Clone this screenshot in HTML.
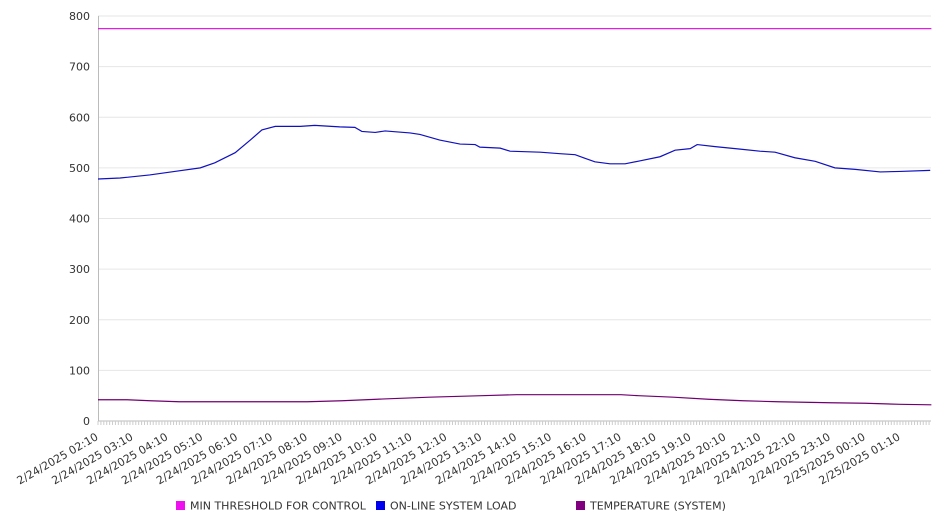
<!DOCTYPE html>
<html><head><meta charset="utf-8"><style>
body{margin:0;background:#fff;font-family:"DejaVu Sans","Liberation Sans",sans-serif;}
svg text{font-family:"DejaVu Sans","Liberation Sans",sans-serif;fill:#333;}
</style></head><body>
<svg id="c" width="946" height="526" xmlns="http://www.w3.org/2000/svg"></svg>
<script>
const timeLabels=["2/24/2025 02:10","2/24/2025 03:10","2/24/2025 04:10","2/24/2025 05:10","2/24/2025 06:10","2/24/2025 07:10","2/24/2025 08:10","2/24/2025 09:10","2/24/2025 10:10","2/24/2025 11:10","2/24/2025 12:10","2/24/2025 13:10","2/24/2025 14:10","2/24/2025 15:10","2/24/2025 16:10","2/24/2025 17:10","2/24/2025 18:10","2/24/2025 19:10","2/24/2025 20:10","2/24/2025 21:10","2/24/2025 22:10","2/24/2025 23:10","2/25/2025 00:10","2/25/2025 01:10"];
const yTicks=[0,100,200,300,400,500,600,700,800];
const loadMinutes=[0,38,89,132,176,201,236,262,282,305,348,373,416,442,454,477,494,537,554,588,623,649,657,692,709,761,795,821,838,855,881,907,933,967,993,1019,1031,1062,1105,1139,1165,1199,1234,1268,1303,1346,1380,1432];
const loadValues=[478,480,486,493,500,510,530,555,575,582,582,584,581,580,572,570,573,569,566,555,547,546,541,539,533,531,528,526,519,512,508,508,514,522,535,538,546,542,537,533,531,520,513,500,497,492,493,495];
const tempMinutes=[0,50,90,140,360,420,480,570,660,720,900,930,990,1050,1110,1170,1260,1320,1380,1434];
const tempValues=[42,42,40,38,38,40,43,47,50,52,52,50,47,43,40,38,36,35,33,32];
const thrMinutes=[0,1434];
const thrValues=[775,775];
const L=98,R=931,T=16,B=421,MAX=800,SPAN=1434;
const pxPerMin=(900-98)/(23*60);
const X=m=>L+m*pxPerMin;
const Y=v=>B-(v/MAX)*(B-T);
const svg=document.getElementById('c');
const NS='http://www.w3.org/2000/svg';
function mk(t,a){const e=document.createElementNS(NS,t);for(const k in a)e.setAttribute(k,a[k]);svg.appendChild(e);return e;}
yTicks.forEach(v=>{
  const g=mk('line',{x1:L,x2:R,y1:Y(v),y2:Y(v),stroke:v===0?'#bbb':'#e6e6e6','stroke-width':1});
  
  
  const t=mk('text',{x:90,y:Y(v)+4,'text-anchor':'end','font-size':11});
  t.textContent=v;
  
  
});
const ax=mk('line',{x1:L+0.5,x2:L+0.5,y1:T,y2:B,stroke:'#bbb'});


for(let m=0;m<=SPAN;m+=5){
  const tk=mk('line',{x1:X(m),x2:X(m),y1:B,y2:B+4,stroke:'#ccc'});
  
  
}
timeLabels.forEach((s,i)=>{
  const x=X(i*60)+1,y=B+18;
  const t=mk('text',{x:x,y:y,'text-anchor':'end','font-size':11,transform:`rotate(-30 ${x} ${y})`});
  t.textContent=s;
  
  
});
function line(ms,vs,color,name){
  const p=mk('polyline',{points:ms.map((m,i)=>X(m)+','+Y(vs[i])).join(' '),fill:'none',stroke:color,'stroke-width':1.2});
  
  
}
line(thrMinutes,thrValues,'#e020e0','series-min-threshold');
line(loadMinutes,loadValues,'#1010c0','series-online-system-load');
line(tempMinutes,tempValues,'#700070','series-temperature');
const legend=[["MIN THRESHOLD FOR CONTROL","#ee10ee",176],["ON-LINE SYSTEM LOAD","#0000ee",376],["TEMPERATURE (SYSTEM)","#800080",576]];
legend.forEach(([n,c,x])=>{
  const r=mk('rect',{x:x,y:501,width:9,height:9,fill:c});
  
  
  const t=mk('text',{x:x+14,y:509.5,'font-size':11});
  t.textContent=n;
  
  
});
</script>
</body></html>
